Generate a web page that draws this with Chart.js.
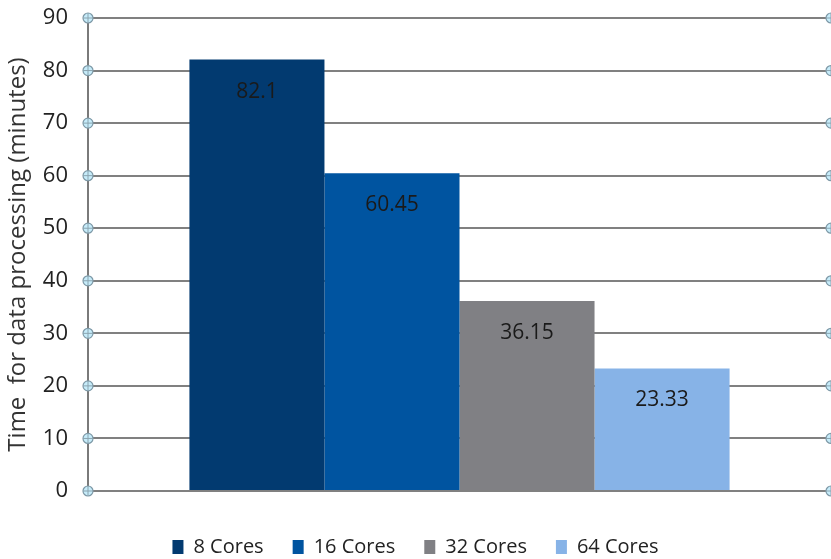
<!DOCTYPE html>
<html>
<head>
<meta charset="utf-8">
<script src="https://cdn.jsdelivr.net/npm/chart.js@4"></script>
<style>
  html,body{margin:0;padding:0;background:#fff;}
  #wrap{width:831px;height:559px;}
</style>
</head>
<body>
<div id="wrap"><canvas id="c" width="831" height="559"></canvas></div>
<script>
const categories = [''];
const seriesNames = ['8 Cores','16 Cores','32 Cores','64 Cores'];
const seriesValues = [82.1, 60.45, 36.15, 23.33];
const seriesColors = ['#023a70','#0054a0','#808084','#87b3e7'];
const yTicks = [0,10,20,30,40,50,60,70,80,90];

const FONT = '"Open Sans", "Noto Sans", sans-serif';

// circle markers at both ends of each gridline
const gridDots = {
  id:'gridDots',
  afterDraw(chart){
    const {ctx, chartArea:a, scales:{y}} = chart;
    ctx.save();
    yTicks.forEach(v=>{
      const py = y.getPixelForValue(v);
      [a.left, a.right].forEach(px=>{
        ctx.beginPath();
        ctx.arc(px, py, 5, 0, Math.PI*2);
        ctx.fillStyle = '#c6ecfa';
        ctx.fill();
        ctx.lineWidth = 1.2;
        ctx.strokeStyle = '#7d98a6';
        ctx.stroke();
        ctx.beginPath();
        ctx.moveTo(px-5, py); ctx.lineTo(px+5, py);
        ctx.moveTo(px, py-5); ctx.lineTo(px, py+5);
        ctx.lineWidth = 1;
        ctx.strokeStyle = '#8aa4b0';
        ctx.stroke();
      });
    });
    ctx.restore();
  }
};

// value labels inside the bar near its top
const barLabels = {
  id:'barLabels',
  afterDatasetsDraw(chart){
    const ctx = chart.ctx;
    ctx.save();
    ctx.font = '21px ' + FONT;
    ctx.fillStyle = '#1a1a1a';
    ctx.textAlign = 'center';
    ctx.textBaseline = 'middle';
    chart.data.datasets.forEach((ds,i)=>{
      const bar = chart.getDatasetMeta(i).data[0];
      ctx.fillText(String(ds.data[0]), bar.x, bar.y + 32);
    });
    ctx.restore();
  }
};

new Chart(document.getElementById('c'), {
  type:'bar',
  data:{
    labels: categories,
    datasets: seriesNames.map((name,i)=>({
      label:name,
      data:[seriesValues[i]],
      backgroundColor:seriesColors[i],
      borderWidth:0
    }))
  },
  options:{
    responsive:false,
    animation:false,
    devicePixelRatio:1,
    layout:{padding:{top:0,right:0,left:0,bottom:-8}},
    categoryPercentage:0.727,
    barPercentage:1,
    scales:{
      x:{
        display:true,
        afterFit(s){ s.height = 17; },
        ticks:{display:false},
        grid:{display:false, drawTicks:false},
        border:{display:false}
      },
      y:{
        min:0, max:90,
        afterFit(s){ s.width = 88; s.paddingTop = 18; },
        ticks:{stepSize:10, color:'#222', font:{size:22, family:FONT}, padding:20},
        grid:{color:'#808080', lineWidth:2, drawTicks:false},
        border:{display:true, color:'#7a7a7a', width:2},
        title:{display:true, text:'Time  for data processing (minutes)', color:'#333', font:{size:24, family:FONT}, padding:{top:4,bottom:0}}
      }
    },
    plugins:{
      legend:{
        position:'bottom',
        labels:{boxWidth:11, boxHeight:14, color:'#222', font:{size:20, family:FONT}, padding:29}
      },
      tooltip:{enabled:false}
    }
  },
  plugins:[gridDots, barLabels]
});
</script>
</body>
</html>
